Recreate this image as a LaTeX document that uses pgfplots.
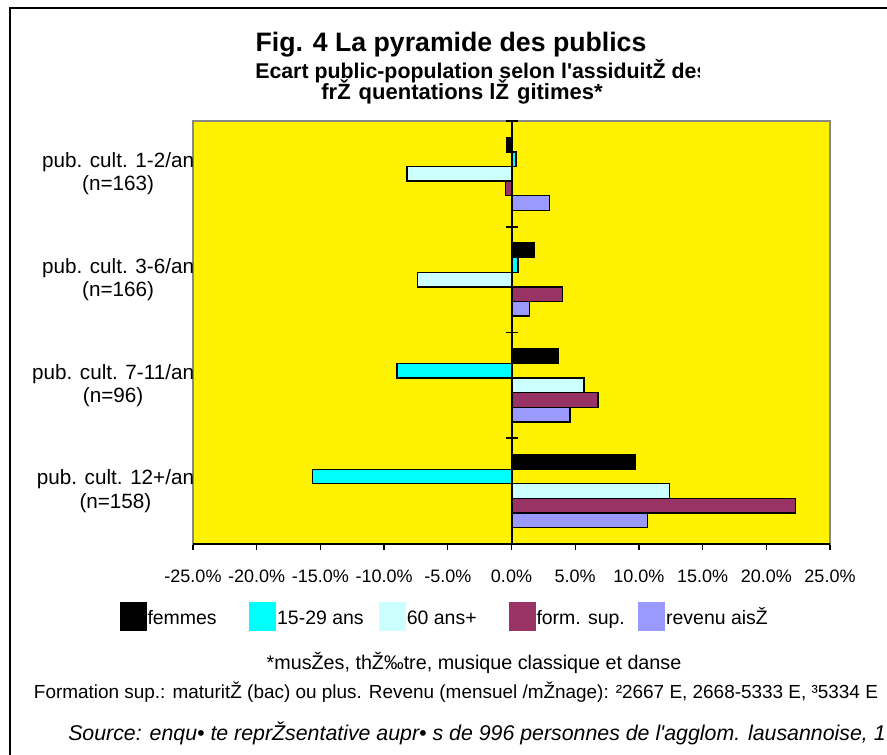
\documentclass[border=0pt]{standalone}
\usepackage{pgfplots}
\pgfplotsset{compat=1.18}
\usepackage{fontspec}
\setmainfont{Liberation Sans}[Ligatures=TeXOff]

\definecolor{plotbg}{RGB}{254,242,0}
\definecolor{cyanbar}{RGB}{0,255,255}
\definecolor{lightcyan}{RGB}{204,255,255}
\definecolor{maroonbar}{RGB}{153,51,102}
\definecolor{peri}{RGB}{153,153,255}
\definecolor{framegray}{RGB}{136,136,136}

\newcommand{\legtext}[1]{\makebox[75.5pt][l]{\vphantom{Žg}#1}}

\begin{document}
\begin{tikzpicture}[x=0.75pt,y=0.75pt]
\useasboundingbox (0,0) rectangle (887,755);
% outer frame, runs off the page at right and bottom
\draw[line width=1.5pt] (10,-20) -- (10,747) -- (910,747);

% titles
\node[anchor=base, inner sep=0pt, font=\fontsize{20}{24}\selectfont\bfseries] at (451,703) {Fig. 4 La pyramide des publics};
\begin{scope}
  \clip (0,0) rectangle (699,755);
  \node[anchor=base west, inner sep=0pt, font=\fontsize{16}{19}\selectfont\bfseries] at (255,676) {Ecart public-population selon l'assiduitŽ des};
\end{scope}
\node[anchor=base, inner sep=0pt, font=\fontsize{16.5}{19}\selectfont\bfseries] at (462,655) {frŽ\hspace{6pt}quentations lŽ\hspace{6pt}gitimes*};

\begin{axis}[
    at={(144.75pt,158.25pt)}, anchor=south west,
    scale only axis, width=477.75pt, height=317.25pt,
    xmin=-25, xmax=25, ymin=-0.5, ymax=3.5,
    xbar, bar width=10.95pt,
    axis background/.style={fill=plotbg},
    axis line style={framegray, line width=1.5pt},
    xtick pos=bottom,
    xtick={-25,-20,...,25},
    xticklabels={-25.0\%,-20.0\%,-15.0\%,-10.0\%,-5.0\%,0.0\%,5.0\%,10.0\%,15.0\%,20.0\%,25.0\%},
    xtick align=outside, major tick length=4.5pt,
    x tick style={black, line width=1pt},
    xticklabel style={font=\fontsize{13.5}{16}\selectfont, inner sep=0pt, yshift=-15pt},
    ytick=\empty,
    clip=false,
    legend columns=5,
    legend style={draw=none, fill=none, inner sep=0pt, at={(-0.1158,-0.1714)}, anchor=west,
        nodes={inner sep=0.75pt, anchor=west}, font=\fontsize{14.6}{16}\selectfont},
    legend image code/.code={\fill[#1,draw=none] (0pt,-10.875pt) rectangle (20.25pt,10.875pt);},
]
    % order from top to bottom in each group
    \addplot[fill=black, draw=black, line width=1pt, bar shift=21.9pt] coordinates {
        (9.7,0) (3.7,1) (1.8,2) (-0.4,3)
    };
    \addlegendentry{\legtext{femmes}}
    \addplot[fill=cyanbar, draw=black, line width=1pt, bar shift=10.95pt] coordinates {
        (-15.6,0) (-9.0,1) (0.5,2) (0.35,3)
    };
    \addlegendentry{\legtext{15-29 ans}}
    \addplot[fill=lightcyan, draw=black, line width=1pt, bar shift=0pt] coordinates {
        (12.4,0) (5.7,1) (-7.4,2) (-8.2,3)
    };
    \addlegendentry{\legtext{60 ans+}}
    \addplot[fill=maroonbar, draw=black, line width=1pt, bar shift=-10.95pt] coordinates {
        (22.3,0) (6.8,1) (4.0,2) (-0.45,3)
    };
    \addlegendentry{\legtext{form. sup.}}
    \addplot[fill=peri, draw=black, line width=1pt, bar shift=-21.9pt] coordinates {
        (10.7,0) (4.6,1) (1.4,2) (3.0,3)
    };
    \addlegendentry{\legtext{revenu aisŽ}}

    % zero line with its group ticks, bottom axis in black
    \draw[black, line width=1.5pt] (axis cs:0,-0.5) -- (axis cs:0,3.5);
    \draw[black, line width=1.2pt] (axis cs:0,0.5) ++(-4.5pt,0pt) -- ++(9pt,0pt);
    \draw[black, line width=1.2pt] (axis cs:0,1.5) ++(-4.5pt,0pt) -- ++(9pt,0pt);
    \draw[black, line width=1.2pt] (axis cs:0,2.5) ++(-4.5pt,0pt) -- ++(9pt,0pt);
    \draw[black, line width=1.2pt] (axis cs:0,3.5) ++(-4.5pt,0pt) -- ++(9pt,0pt);
    \draw[black, line width=1.5pt] (rel axis cs:0,0) -- (rel axis cs:1,0);

    % category labels
    \begin{scope}[every node/.style={anchor=east, align=center, inner sep=0pt, xshift=1pt,
        font=\fontsize{15.5}{17.5}\selectfont}]
    \node at (axis cs:-25,3) {pub. cult. 1-2/an\\(n=163)};
    \node at (axis cs:-25,2) {pub. cult. 3-6/an\\(n=166)};
    \node at (axis cs:-25,1) {pub. cult. 7-11/an\\(n=96)};
    \node at (axis cs:-25,0) {pub. cult. 12+/an\\(n=158)};
    \end{scope}
\end{axis}

% notes below the chart
\node[inner sep=0pt, font=\fontsize{14.8}{16}\selectfont] at (474,92) {*musŽes, thŽ‰tre, musique classique et danse};
\node[inner sep=0pt, font=\fontsize{14.2}{16}\selectfont] at (456,63) {Formation sup.: maturitŽ (bac) ou plus. Revenu (mensuel /mŽnage): ²2667 E, 2668-5333 E, ³5334 E};
\node[anchor=west, inner sep=0pt, font=\fontsize{16}{18}\selectfont\itshape] at (68,22) {Source: enqu• te reprŽsentative aupr• s de 996 personnes de l'agglom. lausannoise, 1};
\end{tikzpicture}
\end{document}
